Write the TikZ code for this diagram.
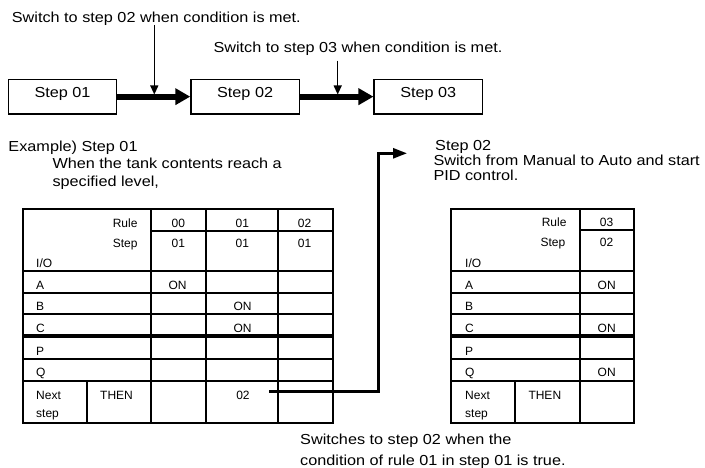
\documentclass[tikz,border=0pt]{standalone}
\usepackage{fontspec}
\setmainfont{Liberation Sans}
\newfontfamily\bigf{Liberation Sans}[FakeStretch=1.12]
\usetikzlibrary{arrows.meta}
\begin{document}
\begin{tikzpicture}[x=1pt,y=-1pt,
  txt/.style={font=\bigf\fontsize{14.5}{17}\selectfont, inner sep=0pt, anchor=base west},
  tt/.style={font=\fontsize{12}{14}\selectfont, inner sep=0pt},
  ttl/.style={tt, anchor=base west},
  ttr/.style={tt, anchor=base east},
  ttc/.style={tt, anchor=base},
  stepbox/.style={draw, line width=1.3pt, minimum width=108.4pt, inner sep=0pt,
     text height=18pt, text depth=16.7pt, anchor=base,
     font=\bigf\fontsize{14.5}{17}\selectfont},
  gridline/.style={line width=2pt},
  thickgrid/.style={line width=3.2pt},
  bigarrow/.style={line width=6pt, -{Triangle[length=15pt,width=16pt]}},
  thinarrow/.style={line width=1.3pt, -{Triangle[length=9pt,width=8pt]}},
  conn/.style={line width=2.6pt, -{Triangle[length=14pt,width=10pt]}}
]
\useasboundingbox (0,0) rectangle (705,468);

% top texts
\node[txt] (sw1) at (11.7,22.7) {Switch to step 02 when condition is met.};
\node[txt] (sw2) at (213.3,52.3) {Switch to step 03 when condition is met.};

% step boxes
\node[stepbox] (s1) at (62.5,97.3) {Step 01};
\node[stepbox] (s2) at (245.1,97.3) {Step 02};
\node[stepbox] (s3) at (428.3,97.3) {Step 03};
\draw[bigarrow] (s1.east) -- (s2.west);
\draw[bigarrow] (s2.east) -- (s3.west);

\coordinate (v1top) at (154.3,25);
\coordinate (v1bot) at (154.3,94.5);
\coordinate (v2top) at (337.7,60.7);
\coordinate (v2bot) at (337.7,94.5);
\draw[thinarrow] (v1top) -- (v1bot);
\draw[thinarrow] (v2top) -- (v2bot);

% descriptions
\node[txt] (ex1) at (8.3,151.7) {Example) Step 01};
\node[txt] (ex2) at (52.3,168.3) {When the tank contents reach a};
\node[txt] (ex3) at (52.3,186.7) {specified level,};
\node[txt] (rt1) at (435,150.7) {Step 02};
\node[txt] (rt2) at (433.3,166) {Switch from Manual to Auto and start};
\node[txt] (rt3) at (433.3,181) {PID control.};
\node[txt] (bt1) at (300,444.3) {Switches to step 02 when the};
\node[txt] (bt2) at (300,465) {condition of rule 01 in step 01 is true.};

% left table
\draw[gridline] (23,209) rectangle (333,423);
\draw[gridline] (151,209) -- (151,423);
\draw[gridline] (206,209) -- (206,423);
\draw[gridline] (278,209) -- (278,423);
\draw[gridline] (87,381) -- (87,423);
\draw[gridline] (151,231) -- (333,231);
\foreach \yy in {271,293,314,359,381} \draw[gridline] (23,\yy) -- (333,\yy);
\draw[thickgrid] (23,336) -- (333,336);

\node[ttr] (lrule) at (137.7,228) {Rule};
\node[ttr] (lstep) at (137.7,247.5) {Step};
\node[ttl] (lio) at (36,268) {I/O};
\node[ttc] (l00) at (178.4,228) {00};
\node[ttc] (l01) at (242.3,228) {01};
\node[ttc] (l02) at (304.5,228) {02};
\node[ttc] (ls1) at (178.4,247.5) {01};
\node[ttc] (ls2) at (242.3,247.5) {01};
\node[ttc] (ls3) at (304.5,247.5) {01};
\node[ttl] (la) at (36,289) {A};
\node[ttl] (lb) at (36,310) {B};
\node[ttl] (lc) at (36,332) {C};
\node[ttl] (lp) at (36,355) {P};
\node[ttl] (lq) at (36,376.7) {Q};
\node[ttl] (lnext) at (36,399) {Next};
\node[ttl] (lstp) at (36,417.5) {step};
\node[ttl] (lthen) at (100,399) {THEN};
\node[ttc] (laon) at (177.5,289) {ON};
\node[ttc] (lbon) at (242.5,310) {ON};
\node[ttc] (lcon) at (242.5,332) {ON};
\node[ttc] (lnx) at (243,399) {02};

% right table
\draw[gridline] (451,209) rectangle (634,423);
\draw[gridline] (580,209) -- (580,423);
\draw[gridline] (515,381) -- (515,423);
\draw[gridline] (580,230) -- (634,230);
\foreach \yy in {271,293,314,359,381} \draw[gridline] (451,\yy) -- (634,\yy);
\draw[thickgrid] (451,336) -- (634,336);

\node[ttr] (rrule) at (566.7,227) {Rule};
\node[ttr] (rstep) at (565.5,246.5) {Step};
\node[ttl] (rio) at (465,267) {I/O};
\node[ttc] (r03) at (606.5,227) {03};
\node[ttc] (rs) at (606.5,247) {02};
\node[ttl] (ra) at (465,289) {A};
\node[ttl] (rb) at (465,310) {B};
\node[ttl] (rc) at (465,332) {C};
\node[ttl] (rp) at (465,355) {P};
\node[ttl] (rq) at (465,376.7) {Q};
\node[ttl] (rnext) at (465,399) {Next};
\node[ttl] (rstp) at (465,417.5) {step};
\node[ttl] (rthen) at (528.3,399) {THEN};
\node[ttc] (raon) at (606.7,289) {ON};
\node[ttc] (rcon) at (606.7,332) {ON};
\node[ttc] (rqon) at (606.7,376.7) {ON};

% connector
\coordinate (cstart) at (269,391.7);
\coordinate (cend) at (407,153.3);
\draw[conn] (cstart) -- (378.3,391.7) |- (cend);
\end{tikzpicture}
\end{document}
